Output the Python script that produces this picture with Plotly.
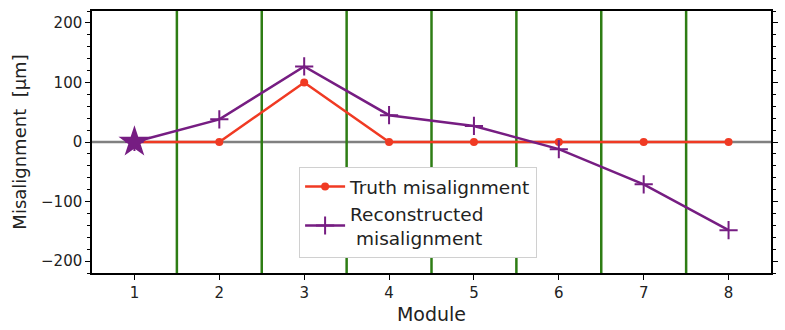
import plotly.graph_objects as go

# module numbers and misalignments in um
modules = [1, 2, 3, 4, 5, 6, 7, 8]
truth = [0, 0, 100, 0, 0, 0, 0, 0]
reco = [0, 38, 127, 45, 27, -12, -71, -148]
boundaries = [1.5, 2.5, 3.5, 4.5, 5.5, 6.5, 7.5]

fig = go.Figure()

# zero line
fig.add_trace(go.Scatter(x=[0.5, 8.5], y=[0, 0], mode='lines',
                         line=dict(color='grey', width=2.5), showlegend=False, hoverinfo='skip'))

for b in boundaries:
    fig.add_trace(go.Scatter(x=[b, b], y=[-220, 220], mode='lines',
                             line=dict(color='#2e7d14', width=2.5), showlegend=False, hoverinfo='skip'))

fig.add_trace(go.Scatter(x=modules, y=truth, mode='lines+markers', name='Truth misalignment',
                         line=dict(color='#f03a23', width=2.5),
                         marker=dict(symbol='circle', size=8, color='#f03a23', opacity=1)))

fig.add_trace(go.Scatter(x=modules, y=reco, mode='lines+markers',
                         name='Reconstructed<br> misalignment',
                         line=dict(color='#761d82', width=2.5),
                         marker=dict(symbol='cross-thin', size=13, color='#761d82', opacity=1,
                                     line=dict(color='#761d82', width=2))))

# star on the first module
fig.add_trace(go.Scatter(x=modules[:1], y=reco[:1], mode='markers', showlegend=False,
                         marker=dict(symbol='star', size=24, color='#761d82', opacity=1,
                                     line=dict(width=0))))

fig.update_layout(
    width=785, height=330,
    margin=dict(l=92, r=14, t=11, b=57),
    plot_bgcolor='white', paper_bgcolor='white',
    font=dict(family='DejaVu Sans', size=15, color='#222'),
    legend=dict(x=0.305, y=0.405, xanchor='left', yanchor='top',
                bordercolor='#d0d0d0', borderwidth=1, bgcolor='white',
                itemwidth=40, tracegroupgap=0, font=dict(size=18.5)),
    xaxis=dict(title=dict(text='Module', font=dict(size=19), standoff=7), automargin=False,
               range=[0.5, 8.5], tickvals=modules, showgrid=False, zeroline=False,
               showline=True, linecolor='black', linewidth=1.5, mirror=True,
               ticks='outside', ticklen=5, tickcolor='black'),
    yaxis=dict(title=dict(text='Misalignment  [µm]', font=dict(size=18), standoff=10),
               automargin=False,
               range=[-220, 220], tickvals=[-200, -100, 0, 100, 200], showgrid=False,
               zeroline=False, showline=True, linecolor='black', linewidth=1.5, mirror='ticks',
               ticks='outside', ticklen=5, tickcolor='black',
               minor=dict(dtick=20, ticks='outside', ticklen=3, tickcolor='black')),
)

fig.write_html("out.html", config={'displayModeBar': False},
               post_script="document.body.style.margin='0';")
